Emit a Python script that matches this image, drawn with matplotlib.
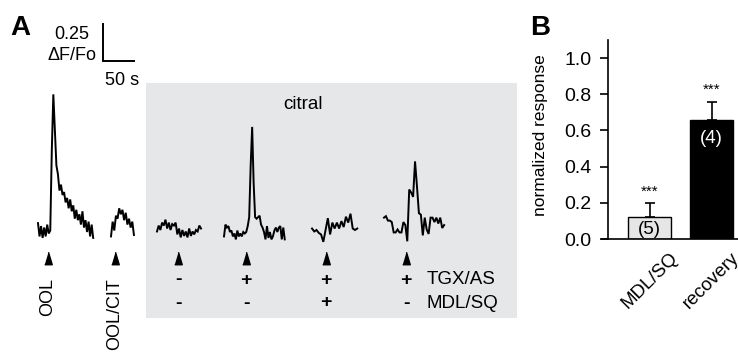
#-----------------------------------------------------------------
# Citral / OOL calcium responses (A) and normalized summary (B)
#-----------------------------------------------------------------

import matplotlib.pyplot as plt
from matplotlib.patches import Rectangle
import numpy as np

plt.rcParams['font.family'] = ['Liberation Sans', 'DejaVu Sans']

#============== Data ===============

# dF/Fo traces
ool = [0.06, -0.03, 0.04, -0.04, 0.03, -0.03, 0.05, -0.01, 0.01, 0.55, 0.93,
       0.69, 0.45, 0.39, 0.28, 0.32, 0.25, 0.27, 0.20, 0.23, 0.16, 0.22, 0.14,
       0.18, 0.09, 0.15, 0.08, 0.12, 0.05, 0.14, 0.03, 0.08, 0.00, 0.07, -0.03,
       0.05, -0.04]
ool_cit = [-0.03, 0.07, 0.01, 0.11, 0.09, 0.16, 0.12, 0.15, 0.08, 0.13, 0.05,
           0.09, 0.03, 0.07, -0.02]
cit_ctrl = [-0.01, 0.03, 0.00, 0.05, 0.03, 0.07, 0.01, 0.05, 0.00, 0.04, 0.03,
            0.05, -0.03, 0.01, -0.05, 0.00, -0.04, -0.01, -0.05, 0.01, -0.04,
            -0.01, -0.03, 0.00, -0.01, 0.03, 0.01]
cit_tgx = [-0.03, 0.05, 0.03, 0.04, 0.00, 0.01, -0.03, -0.01, -0.05, 0.01,
           -0.03, -0.01, -0.03, 0.00, -0.01, 0.00, 0.04, 0.10, 0.45, 0.71, 0.33,
           0.10, 0.09, 0.10, 0.11, 0.05, 0.03, 0.00, -0.05, 0.04, -0.04, 0.00,
           -0.05, -0.03, 0.01, 0.03, 0.00, 0.03, 0.04, -0.05, 0.03, -0.05]
cit_tgx_mdl = [0.01, -0.01, 0.00, -0.02, -0.03, -0.08, 0.00, 0.08, -0.03, 0.05,
               0.01, 0.05, 0.01, 0.06, 0.02, 0.09, 0.05, 0.11, 0.01, 0.00, 0.01]
cit_recov = [0.07, 0.08, 0.05, 0.05, 0.04, -0.03, -0.03, -0.01, -0.03, -0.03,
             0.04, 0.02, -0.09, 0.26, 0.24, 0.21, 0.45, 0.28, 0.10, 0.09, -0.05,
             0.07, -0.01, -0.04, 0.07, 0.07, 0.04, 0.07, 0.03, 0.07, 0.00, 0.02]

traces = [ool, ool_cit, cit_ctrl, cit_tgx, cit_tgx_mdl, cit_recov]
trace_dur = [89, 37, 71, 98, 73, 97]          # s
stim_time = [16, 6.5, 34, 35.5, 22.6, 35.5]   # s after trace start
labels_rot = ['OOL', 'OOL/CIT']

tgx = ['-', '+', '+', '+']
mdl = ['-', '-', '+', '-']

# panel B
conds = ['MDL/SQ', 'recovery']
means = [0.12, 0.66]
sem = [0.08, 0.10]
n_cells = [5, 4]

#============== Layout ===============

W, H = 738, 354
PX_S = 0.62      # px per second
PX_DFF = 148.0   # px per dF/Fo

def fx(px):
    return px / W

def fy(py):
    return 1 - py / H

fig = plt.figure(figsize=(W / 100, H / 100), dpi=100)

ax = fig.add_axes([0, 0, 1, 1])
ax.set_xlim(0, W / PX_S)
ax.set_ylim(0, H / PX_DFF)
ax.axis('off')
ax.patch.set_alpha(0)

# gray citral box
ax.add_patch(Rectangle((fx(146), fy(318)), fx(517) - fx(146), fy(83) - fy(318),
                       transform=fig.transFigure, facecolor='#e6e7e8',
                       edgecolor='none', zorder=0))

start_px = [38, 111, 157, 224, 312, 384]
base_px = [232, 232, 230, 232, 230, 228]

for vals, dur, st, x0, b0 in zip(traces, trace_dur, stim_time, start_px, base_px):
    t = np.linspace(0, dur, len(vals)) + x0 / PX_S
    ax.plot(t, np.array(vals) + (H - b0) / PX_DFF, c='k', lw=1.4,
            solid_joinstyle='miter', zorder=2)
    ax.plot([x0 / PX_S + st], [(H - 258) / PX_DFF], ls='none', c='k',
            marker=[(-0.3, -0.5), (0.3, -0.5), (0, 0.5)], ms=9, zorder=2)

# scale bar 50 s / 0.25 dF/Fo
sb_x, sb_y = 103 / PX_S, (H - 61) / PX_DFF
ax.plot([sb_x, sb_x, sb_x + 50], [sb_y + 0.25, sb_y, sb_y], c='k', lw=1.4,
        solid_joinstyle='miter')

fig.text(fx(10), fy(35), 'A', fontsize=20, fontweight='bold', va='baseline')
fig.text(fx(72), fy(39), '0.25', fontsize=13, ha='center', va='baseline')
fig.text(fx(72), fy(60), '\u0394F/Fo', fontsize=13, ha='center', va='baseline')
fig.text(fx(122), fy(85), '50 s', fontsize=13, ha='center', va='baseline')
fig.text(fx(303), fy(109), 'citral', fontsize=13.5, ha='center', va='baseline')

for lbl, x0, st in zip(labels_rot, start_px, stim_time):
    fig.text(fx(x0 + st * PX_S), fy(278), lbl, fontsize=13, rotation=90,
             ha='center', va='top')

col_px = [x0 + st * PX_S for x0, st in zip(start_px[2:], stim_time[2:])]
for cx, a, b in zip(col_px, tgx, mdl):
    fig.text(fx(cx), fy(280), a, fontsize=14, fontweight='bold', ha='center', va='center')
    fig.text(fx(cx), fy(303), b, fontsize=14, fontweight='bold', ha='center', va='center')
fig.text(fx(427), fy(280), 'TGX/AS', fontsize=13.5, va='center')
fig.text(fx(427), fy(303), 'MDL/SQ', fontsize=13.5, va='center')

#============== Panel B ===============

bx = fig.add_axes([fx(602), fy(239), fx(738) - fx(602), fy(40) - fy(239)])
bx.set_xlim(-0.766, 1.427)
bx.set_ylim(0, 1.1)
xs = np.arange(len(conds))
bx.bar(xs, means, width=0.69, color=['#e6e6e6', 'k'], edgecolor='k', lw=1, zorder=2)
bx.errorbar(xs, means, yerr=[np.zeros(len(sem)), sem], fmt='none', ecolor='k',
            elinewidth=1.2, capsize=3.5, capthick=1.2, zorder=1)
for i in xs:
    bx.text(i, means[i] + sem[i] + 0.04, '***', fontsize=11, ha='center', va='baseline')
n_y = [0.055, 0.555]
for i, (n, c) in enumerate(zip(n_cells, ['k', 'w'])):
    bx.text(i, n_y[i], f'({n})', fontsize=13.5, ha='center', va='center', color=c, zorder=3)

for s in ['top', 'right']:
    bx.spines[s].set_visible(False)
bx.spines['left'].set_position(('data', -0.669))
bx.spines['left'].set_linewidth(1.2)
bx.spines['bottom'].set_linewidth(1.2)
bx.set_yticks(np.arange(0, 1.01, 0.2), [f'{v:.1f}' for v in np.arange(0, 1.01, 0.2)])
bx.tick_params(axis='y', length=6, width=1.2, pad=6, labelsize=14)
bx.set_xticks(xs, conds, rotation=45, ha='center', va='center', rotation_mode='anchor')
bx.tick_params(axis='x', length=0, pad=30, labelsize=13.5)
bx.patch.set_alpha(0)

fig.text(fx(541), fy(135), 'normalized response', fontsize=12.5, rotation=90,
         ha='center', va='center')
fig.text(fx(530), fy(35), 'B', fontsize=20, fontweight='bold', va='baseline')

fig.savefig('out.png', dpi=100)
